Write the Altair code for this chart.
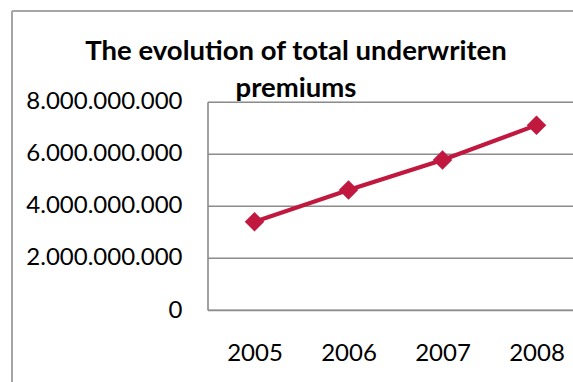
import altair as alt
import pandas as pd

years = [2005, 2006, 2007, 2008]
premiums = [3.39e9, 4.61e9, 5.76e9, 7.10e9]
y_ticks = [0, 2e9, 4e9, 6e9, 8e9]

df = pd.DataFrame({"year": years, "premium": premiums})

FONT = "Lato"
RED = "#C0183F"
GRID = "#8c8c8c"
BORDER = "#a6a6a6"

W = 365.5
H = 208.3

x = alt.X("year:Q",
          scale=alt.Scale(domain=[2004.5, 2004.5 + W / 94.0], nice=False, zero=False),
          axis=alt.Axis(values=years, format="d", title=None, grid=False, ticks=False,
                        labelFont=FONT, labelFontSize=24, labelColor="#000000",
                        labelPadding=31, domainColor=GRID, domainWidth=1.6,
                        labelFlush=False, labelOverlap=False))
y = alt.Y("premium:Q",
          scale=alt.Scale(domain=[0, 8e9], nice=False),
          axis=alt.Axis(values=y_ticks, title=None, ticks=False,
                        labelExpr="replace(format(datum.value, ','), /,/g, '.')",
                        labelFont=FONT, labelFontSize=24, labelColor="#000000",
                        labelPadding=25.5, domainColor=GRID, domainWidth=1.6,
                        gridColor=GRID, gridWidth=1.6, gridOpacity=1,
                        labelFlush=False, labelOverlap=False))

line = alt.Chart(df).mark_line(color=RED, strokeWidth=4.2).encode(x=x, y=y)
pts = alt.Chart(df).mark_point(shape="diamond", filled=True, size=380, color=RED,
                               opacity=1).encode(x="year:Q", y="premium:Q")

border_left = alt.Chart(df).mark_rule(color=BORDER, strokeWidth=1.6).encode(
    x=alt.value(12 - 207.5), y=alt.value(11 - 101.7), y2=alt.value(400))
border_top = alt.Chart(df).mark_rule(color=BORDER, strokeWidth=1.6).encode(
    x=alt.value(12 - 207.5), x2=alt.value(W + 20), y=alt.value(11 - 101.7))

chart = alt.layer(border_left, border_top, line, pts).properties(
    width=W, height=H,
    title=alt.TitleParams(
        text=["The evolution of total underwriten", "premiums"],
        font=FONT, fontSize=27.5, fontWeight="bold", color="#000000",
        anchor="middle", frame="group", dx=296 - (207.5 + W / 2),
        lineHeight=37, offset=0, dy=92),
    autosize=alt.AutoSizeParams(type="none"),
    padding={"left": 207.5, "top": 101.7, "right": 0, "bottom": 382 - 101.7 - H},
).configure_view(stroke=None).configure(background="white")

chart.save("out.html", embed_options={"renderer": "svg", "actions": False})
